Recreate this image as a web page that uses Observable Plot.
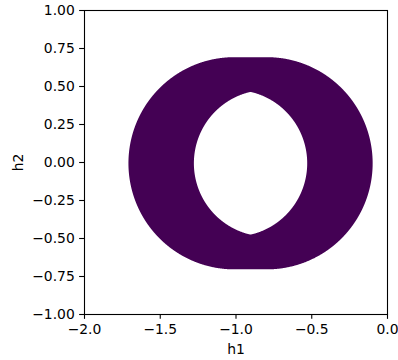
<!DOCTYPE html>
<html>
<head>
<meta charset="utf-8">
<script src="https://cdn.jsdelivr.net/npm/d3@7"></script>
<script src="https://cdn.jsdelivr.net/npm/@observablehq/plot@0.6"></script>
<style>
  html, body { margin: 0; padding: 0; background: white; }
</style>
</head>
<body>
<div id="chart"></div>
<script>
// Region: ring swept along a short horizontal segment
const centerX = [-1.012, -0.796];   // segment end points (h1)
const centerY = [-0.005, -0.005];   // segment end points (h2)
const innerRadius = 0.482;
const outerRadius = 0.698;

const xTicks = [-2.0, -1.5, -1.0, -0.5, 0.0];
const yTicks = [-1.0, -0.75, -0.5, -0.25, 0.0, 0.25, 0.5, 0.75, 1.0];
const xLabel = "h1";
const yLabel = "h2";
const fillColor = "#440154";

// signed membership: positive where some centre on the segment has the point in its ring
function membership(x, y) {
  const ax = centerX[0], ay = centerY[0], bx = centerX[1], by = centerY[1];
  const vx = bx - ax, vy = by - ay;
  let t = ((x - ax) * vx + (y - ay) * vy) / (vx * vx + vy * vy);
  t = Math.max(0, Math.min(1, t));
  const dmin = Math.hypot(x - (ax + t * vx), y - (ay + t * vy));
  const dmax = Math.max(Math.hypot(x - ax, y - ay), Math.hypot(x - bx, y - by));
  return Math.min(outerRadius - dmin, dmax - innerRadius);
}

const fs = 13.9;
const chart = Plot.plot({
  width: 398,
  height: 360,
  marginLeft: 84,
  marginRight: 11,
  marginTop: 10,
  marginBottom: 46,
  style: {fontFamily: "DejaVu Sans", fontSize: fs + "px", background: "white"},
  x: {domain: [-2, 0]},
  y: {domain: [-1, 1]},
  marks: [
    Plot.contour({
      value: membership,
      x1: -2, x2: 0, y1: -1, y2: 1,
      thresholds: [0],
      pixelSize: 0.5,
      fill: fillColor,
      stroke: "none"
    }),
    Plot.frame({stroke: "black", strokeWidth: 1.1}),
    Plot.axisX({
      ticks: xTicks,
      tickFormat: d3.format(".1f"),
      tickSize: 4.86,
      tickPadding: 4.86,
      strokeWidth: 1.1,
      fontSize: fs,
      label: null
    }),
    Plot.axisY({
      ticks: yTicks,
      tickFormat: d3.format(".2f"),
      tickSize: 4.86,
      tickPadding: 4.86,
      strokeWidth: 1.1,
      fontSize: fs,
      label: null
    }),
    Plot.text([xLabel], {frameAnchor: "bottom", dy: 34.8, textAnchor: "middle", lineAnchor: "middle", fontSize: fs, fill: "black"}),
    Plot.text([yLabel], {frameAnchor: "left", dx: -66.15, rotate: -90, textAnchor: "middle", lineAnchor: "middle", fontSize: fs, fill: "black"})
  ]
});
document.getElementById("chart").appendChild(chart);
</script>
</body>
</html>
